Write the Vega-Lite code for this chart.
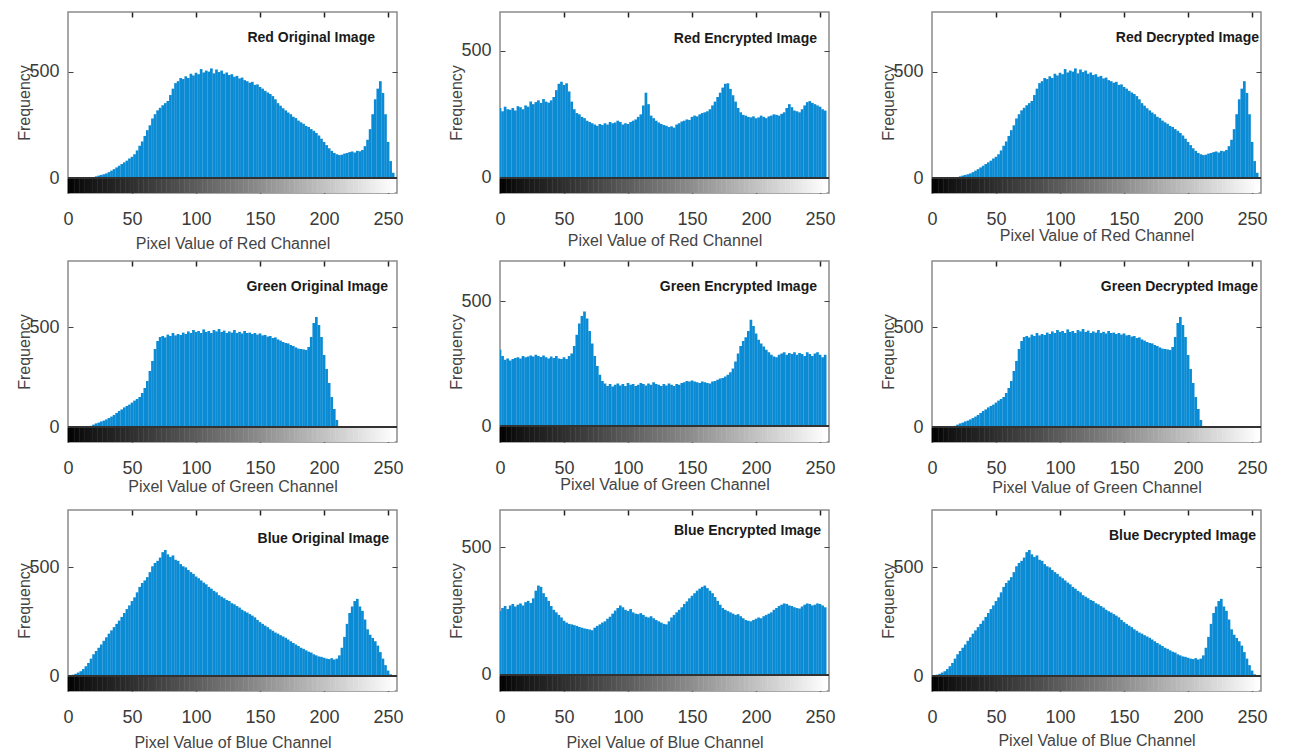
{
"$schema":"https://vega.github.io/schema/vega-lite/v6.json",
"background":"white",
"padding":{"left":16,"top":10,"right":5,"bottom":5},
"datasets":{"h":[
{"x":0,"ro":0,"re":275,"go":0,"ge":305,"bo":0,"be":250},
{"x":2,"ro":0,"re":262,"go":0,"ge":280,"bo":2,"be":262},
{"x":4,"ro":0,"re":280,"go":0,"ge":265,"bo":6,"be":270},
{"x":6,"ro":0,"re":270,"go":0,"ge":270,"bo":10,"be":258},
{"x":8,"ro":0,"re":268,"go":0,"ge":262,"bo":16,"be":272},
{"x":10,"ro":0,"re":275,"go":0,"ge":268,"bo":22,"be":278},
{"x":12,"ro":0,"re":265,"go":0,"ge":272,"bo":32,"be":268},
{"x":14,"ro":0,"re":282,"go":0,"ge":275,"bo":45,"be":275},
{"x":16,"ro":0,"re":278,"go":2,"ge":270,"bo":60,"be":280},
{"x":18,"ro":2,"re":270,"go":6,"ge":280,"bo":80,"be":272},
{"x":20,"ro":5,"re":285,"go":12,"ge":275,"bo":100,"be":285},
{"x":22,"ro":8,"re":280,"go":18,"ge":278,"bo":115,"be":290},
{"x":24,"ro":12,"re":300,"go":22,"ge":282,"bo":130,"be":282},
{"x":26,"ro":15,"re":290,"go":28,"ge":278,"bo":145,"be":300},
{"x":28,"ro":18,"re":298,"go":32,"ge":285,"bo":162,"be":330},
{"x":30,"ro":22,"re":305,"go":38,"ge":280,"bo":178,"be":350},
{"x":32,"ro":28,"re":295,"go":45,"ge":276,"bo":195,"be":345},
{"x":34,"ro":35,"re":310,"go":52,"ge":282,"bo":210,"be":320},
{"x":36,"ro":42,"re":300,"go":60,"ge":275,"bo":225,"be":305},
{"x":38,"ro":50,"re":296,"go":70,"ge":270,"bo":240,"be":290},
{"x":40,"ro":58,"re":305,"go":80,"ge":278,"bo":255,"be":270},
{"x":42,"ro":66,"re":318,"go":88,"ge":272,"bo":272,"be":255},
{"x":44,"ro":74,"re":345,"go":98,"ge":280,"bo":290,"be":245},
{"x":46,"ro":82,"re":370,"go":105,"ge":270,"bo":308,"be":235},
{"x":48,"ro":92,"re":378,"go":112,"ge":268,"bo":325,"be":225},
{"x":50,"ro":100,"re":365,"go":122,"ge":275,"bo":345,"be":212},
{"x":52,"ro":112,"re":372,"go":132,"ge":268,"bo":362,"be":205},
{"x":54,"ro":130,"re":340,"go":140,"ge":280,"bo":385,"be":200},
{"x":56,"ro":152,"re":300,"go":150,"ge":290,"bo":410,"be":198},
{"x":58,"ro":172,"re":270,"go":170,"ge":320,"bo":428,"be":195},
{"x":60,"ro":198,"re":255,"go":195,"ge":365,"bo":440,"be":192},
{"x":62,"ro":225,"re":250,"go":230,"ge":410,"bo":455,"be":188},
{"x":64,"ro":248,"re":240,"go":280,"ge":440,"bo":478,"be":185},
{"x":66,"ro":280,"re":235,"go":330,"ge":458,"bo":505,"be":182},
{"x":68,"ro":300,"re":225,"go":390,"ge":430,"bo":520,"be":180},
{"x":70,"ro":318,"re":220,"go":430,"ge":380,"bo":530,"be":178},
{"x":72,"ro":330,"re":215,"go":450,"ge":330,"bo":545,"be":175},
{"x":74,"ro":342,"re":210,"go":455,"ge":280,"bo":570,"be":185},
{"x":76,"ro":352,"re":205,"go":448,"ge":240,"bo":580,"be":192},
{"x":78,"ro":362,"re":212,"go":462,"ge":205,"bo":560,"be":198},
{"x":80,"ro":390,"re":208,"go":455,"ge":180,"bo":548,"be":205},
{"x":82,"ro":420,"re":215,"go":470,"ge":170,"bo":555,"be":210},
{"x":84,"ro":446,"re":210,"go":458,"ge":160,"bo":535,"be":220},
{"x":86,"ro":455,"re":220,"go":465,"ge":168,"bo":530,"be":228},
{"x":88,"ro":470,"re":215,"go":460,"ge":158,"bo":515,"be":240},
{"x":90,"ro":465,"re":218,"go":472,"ge":165,"bo":505,"be":252},
{"x":92,"ro":478,"re":225,"go":465,"ge":170,"bo":500,"be":262},
{"x":94,"ro":470,"re":220,"go":478,"ge":162,"bo":488,"be":272},
{"x":96,"ro":490,"re":210,"go":470,"ge":168,"bo":478,"be":265},
{"x":98,"ro":482,"re":215,"go":485,"ge":160,"bo":470,"be":255},
{"x":100,"ro":495,"re":212,"go":475,"ge":172,"bo":458,"be":250},
{"x":102,"ro":488,"re":220,"go":480,"ge":165,"bo":450,"be":258},
{"x":104,"ro":512,"re":225,"go":470,"ge":168,"bo":440,"be":245},
{"x":106,"ro":496,"re":230,"go":488,"ge":160,"bo":430,"be":240},
{"x":108,"ro":505,"re":240,"go":475,"ge":165,"bo":422,"be":238},
{"x":110,"ro":500,"re":250,"go":480,"ge":172,"bo":410,"be":242},
{"x":112,"ro":515,"re":285,"go":470,"ge":168,"bo":402,"be":235},
{"x":114,"ro":492,"re":335,"go":485,"ge":162,"bo":392,"be":228},
{"x":116,"ro":510,"re":290,"go":478,"ge":170,"bo":385,"be":225},
{"x":118,"ro":498,"re":245,"go":490,"ge":165,"bo":372,"be":230},
{"x":120,"ro":505,"re":235,"go":475,"ge":175,"bo":365,"be":222},
{"x":122,"ro":490,"re":225,"go":482,"ge":168,"bo":358,"be":215},
{"x":124,"ro":496,"re":218,"go":470,"ge":165,"bo":350,"be":210},
{"x":126,"ro":484,"re":212,"go":478,"ge":160,"bo":345,"be":205},
{"x":128,"ro":488,"re":208,"go":472,"ge":168,"bo":335,"be":200},
{"x":130,"ro":476,"re":205,"go":485,"ge":162,"bo":330,"be":198},
{"x":132,"ro":480,"re":200,"go":470,"ge":170,"bo":322,"be":210},
{"x":134,"ro":468,"re":203,"go":476,"ge":165,"bo":315,"be":225},
{"x":136,"ro":472,"re":198,"go":468,"ge":160,"bo":305,"be":235},
{"x":138,"ro":460,"re":210,"go":480,"ge":168,"bo":298,"be":245},
{"x":140,"ro":455,"re":215,"go":470,"ge":165,"bo":292,"be":255},
{"x":142,"ro":448,"re":222,"go":472,"ge":172,"bo":285,"be":265},
{"x":144,"ro":452,"re":225,"go":465,"ge":175,"bo":278,"be":278},
{"x":146,"ro":438,"re":230,"go":470,"ge":180,"bo":270,"be":288},
{"x":148,"ro":440,"re":228,"go":462,"ge":178,"bo":258,"be":300},
{"x":150,"ro":428,"re":240,"go":468,"ge":182,"bo":248,"be":310},
{"x":152,"ro":420,"re":245,"go":458,"ge":178,"bo":240,"be":320},
{"x":154,"ro":410,"re":242,"go":460,"ge":175,"bo":232,"be":330},
{"x":156,"ro":402,"re":250,"go":452,"ge":172,"bo":225,"be":338},
{"x":158,"ro":395,"re":255,"go":455,"ge":178,"bo":215,"be":345},
{"x":160,"ro":385,"re":258,"go":445,"ge":175,"bo":208,"be":350},
{"x":162,"ro":370,"re":262,"go":448,"ge":172,"bo":200,"be":340},
{"x":164,"ro":352,"re":270,"go":438,"ge":170,"bo":195,"be":330},
{"x":166,"ro":340,"re":285,"go":432,"ge":178,"bo":188,"be":320},
{"x":168,"ro":328,"re":300,"go":425,"ge":180,"bo":182,"be":305},
{"x":170,"ro":318,"re":318,"go":420,"ge":185,"bo":176,"be":290},
{"x":172,"ro":308,"re":335,"go":418,"ge":190,"bo":168,"be":275},
{"x":174,"ro":300,"re":355,"go":410,"ge":192,"bo":160,"be":262},
{"x":176,"ro":288,"re":370,"go":405,"ge":198,"bo":152,"be":255},
{"x":178,"ro":282,"re":372,"go":398,"ge":205,"bo":145,"be":250},
{"x":180,"ro":270,"re":350,"go":392,"ge":215,"bo":138,"be":245},
{"x":182,"ro":262,"re":325,"go":390,"ge":230,"bo":130,"be":240},
{"x":184,"ro":255,"re":300,"go":388,"ge":258,"bo":125,"be":235},
{"x":186,"ro":245,"re":275,"go":385,"ge":290,"bo":118,"be":238},
{"x":188,"ro":240,"re":258,"go":400,"ge":320,"bo":112,"be":230},
{"x":190,"ro":230,"re":248,"go":450,"ge":340,"bo":108,"be":222},
{"x":192,"ro":222,"re":245,"go":520,"ge":355,"bo":100,"be":215},
{"x":194,"ro":212,"re":240,"go":550,"ge":380,"bo":95,"be":212},
{"x":196,"ro":200,"re":238,"go":510,"ge":425,"bo":90,"be":210},
{"x":198,"ro":185,"re":242,"go":450,"ge":400,"bo":88,"be":215},
{"x":200,"ro":170,"re":235,"go":360,"ge":370,"bo":84,"be":220},
{"x":202,"ro":155,"re":238,"go":290,"ge":345,"bo":80,"be":225},
{"x":204,"ro":140,"re":245,"go":220,"ge":330,"bo":78,"be":222},
{"x":206,"ro":128,"re":240,"go":150,"ge":318,"bo":82,"be":230},
{"x":208,"ro":118,"re":235,"go":90,"ge":305,"bo":76,"be":235},
{"x":210,"ro":112,"re":242,"go":35,"ge":295,"bo":80,"be":240},
{"x":212,"ro":108,"re":245,"go":5,"ge":285,"bo":95,"be":245},
{"x":214,"ro":110,"re":250,"go":0,"ge":278,"bo":130,"be":255},
{"x":216,"ro":115,"re":248,"go":0,"ge":275,"bo":180,"be":262},
{"x":218,"ro":118,"re":245,"go":0,"ge":285,"bo":240,"be":270},
{"x":220,"ro":122,"re":252,"go":0,"ge":290,"bo":290,"be":275},
{"x":222,"ro":125,"re":258,"go":0,"ge":295,"bo":320,"be":280},
{"x":224,"ro":120,"re":275,"go":0,"ge":285,"bo":345,"be":278},
{"x":226,"ro":128,"re":290,"go":0,"ge":292,"bo":355,"be":272},
{"x":228,"ro":126,"re":278,"go":0,"ge":288,"bo":320,"be":270},
{"x":230,"ro":132,"re":265,"go":0,"ge":295,"bo":300,"be":265},
{"x":232,"ro":150,"re":262,"go":0,"ge":285,"bo":260,"be":262},
{"x":234,"ro":180,"re":258,"go":0,"ge":292,"bo":215,"be":260},
{"x":236,"ro":230,"re":270,"go":0,"ge":288,"bo":190,"be":268},
{"x":238,"ro":300,"re":285,"go":0,"ge":280,"bo":175,"be":275},
{"x":240,"ro":370,"re":298,"go":0,"ge":295,"bo":160,"be":280},
{"x":242,"ro":420,"re":302,"go":0,"ge":288,"bo":140,"be":278},
{"x":244,"ro":455,"re":295,"go":0,"ge":280,"bo":110,"be":272},
{"x":246,"ro":400,"re":290,"go":0,"ge":290,"bo":80,"be":275},
{"x":248,"ro":300,"re":285,"go":0,"ge":295,"bo":50,"be":280},
{"x":250,"ro":170,"re":280,"go":0,"ge":285,"bo":25,"be":278},
{"x":252,"ro":80,"re":270,"go":0,"ge":275,"bo":8,"be":272},
{"x":254,"ro":25,"re":265,"go":0,"ge":285,"bo":0,"be":265}
]},
"data":{"name":"h"},
"columns":3,
"spacing":{"row":68,"column":103},
"bounds":"flush",
"concat":[
{"width":329,"height":181,"title":{"text":"Red Original Image","dx":-22,"offset":-34},
 "encoding":{"x":{"field":"x","type":"quantitative","scale":{"domain":[0,257],"nice":false,"zero":false,"padding":0},"axis":{"orient":"bottom","values":[0,50,100,150,200,250],"title":"Pixel Value of Red Channel","titlePadding":7}}},
 "layer":[
  {"mark":{"type":"bar","size":3,"clip":true},"encoding":{"y":{"datum":0,"type":"quantitative","scale":{"domain":[-70,780],"nice":false,"padding":0},"axis":{"orient":"left","values":[0,500],"title":"Frequency"}},"y2":{"datum":-70},"color":{"field":"x","type":"quantitative","scale":{"domain":[0,255],"range":["#000000","#ffffff"]},"legend":null}}},
  {"mark":{"type":"bar","size":2.7,"color":"#0a8bd4","clip":true},"encoding":{"x":{"field":"x","type":"quantitative","axis":null},"y":{"field":"ro","type":"quantitative","axis":null}}},
  {"mark":{"type":"rule","color":"#333333","strokeWidth":1.2},"encoding":{"x":{"datum":0,"axis":{"orient":"top","values":[50,100,150,200,250],"labels":false,"title":null,"tickSize":-5}},"x2":{"datum":257},"y":{"datum":0,"axis":{"orient":"right","values":[500],"labels":false,"title":null,"tickSize":-5}}}}
 ]},
{"width":329,"height":181,"title":{"text":"Red Encrypted Image","dx":-12,"offset":-35},
 "encoding":{"x":{"field":"x","type":"quantitative","scale":{"domain":[0,257],"nice":false,"zero":false,"padding":0},"axis":{"orient":"bottom","values":[0,50,100,150,200,250],"title":"Pixel Value of Red Channel","titlePadding":4}}},
 "layer":[
  {"mark":{"type":"bar","size":3,"clip":true},"encoding":{"y":{"datum":0,"type":"quantitative","scale":{"domain":[-59,652],"nice":false,"padding":0},"axis":{"orient":"left","values":[0,500],"title":"Frequency"}},"y2":{"datum":-59},"color":{"field":"x","type":"quantitative","scale":{"domain":[0,255],"range":["#000000","#ffffff"]},"legend":null}}},
  {"mark":{"type":"bar","size":2.7,"color":"#0a8bd4","clip":true},"encoding":{"x":{"field":"x","type":"quantitative","axis":null},"y":{"field":"re","type":"quantitative","axis":null}}},
  {"mark":{"type":"rule","color":"#333333","strokeWidth":1.2},"encoding":{"x":{"datum":0,"axis":{"orient":"top","values":[50,100,150,200,250],"labels":false,"title":null,"tickSize":-5}},"x2":{"datum":257},"y":{"datum":0,"axis":{"orient":"right","values":[500],"labels":false,"title":null,"tickSize":-5}}}}
 ]},
{"width":329,"height":181,"title":{"text":"Red Decrypted Image","dx":-2,"offset":-34},
 "encoding":{"x":{"field":"x","type":"quantitative","scale":{"domain":[0,257],"nice":false,"zero":false,"padding":0},"axis":{"orient":"bottom","values":[0,50,100,150,200,250],"title":"Pixel Value of Red Channel","titlePadding":-1}}},
 "layer":[
  {"mark":{"type":"bar","size":3,"clip":true},"encoding":{"y":{"datum":0,"type":"quantitative","scale":{"domain":[-70,780],"nice":false,"padding":0},"axis":{"orient":"left","values":[0,500],"title":"Frequency"}},"y2":{"datum":-70},"color":{"field":"x","type":"quantitative","scale":{"domain":[0,255],"range":["#000000","#ffffff"]},"legend":null}}},
  {"mark":{"type":"bar","size":2.7,"color":"#0a8bd4","clip":true},"encoding":{"x":{"field":"x","type":"quantitative","axis":null},"y":{"field":"ro","type":"quantitative","axis":null}}},
  {"mark":{"type":"rule","color":"#333333","strokeWidth":1.2},"encoding":{"x":{"datum":0,"axis":{"orient":"top","values":[50,100,150,200,250],"labels":false,"title":null,"tickSize":-5}},"x2":{"datum":257},"y":{"datum":0,"axis":{"orient":"right","values":[500],"labels":false,"title":null,"tickSize":-5}}}}
 ]},
{"width":329,"height":181,"title":{"text":"Green Original Image","dx":-9,"offset":-34},
 "encoding":{"x":{"field":"x","type":"quantitative","scale":{"domain":[0,257],"nice":false,"zero":false,"padding":0},"axis":{"orient":"bottom","values":[0,50,100,150,200,250],"title":"Pixel Value of Green Channel","titlePadding":1}}},
 "layer":[
  {"mark":{"type":"bar","size":3,"clip":true},"encoding":{"y":{"datum":0,"type":"quantitative","scale":{"domain":[-75,830],"nice":false,"padding":0},"axis":{"orient":"left","values":[0,500],"title":"Frequency"}},"y2":{"datum":-75},"color":{"field":"x","type":"quantitative","scale":{"domain":[0,255],"range":["#000000","#ffffff"]},"legend":null}}},
  {"mark":{"type":"bar","size":2.7,"color":"#0a8bd4","clip":true},"encoding":{"x":{"field":"x","type":"quantitative","axis":null},"y":{"field":"go","type":"quantitative","axis":null}}},
  {"mark":{"type":"rule","color":"#333333","strokeWidth":1.2},"encoding":{"x":{"datum":0,"axis":{"orient":"top","values":[50,100,150,200,250],"labels":false,"title":null,"tickSize":-5}},"x2":{"datum":257},"y":{"datum":0,"axis":{"orient":"right","values":[500],"labels":false,"title":null,"tickSize":-5}}}}
 ]},
{"width":329,"height":181,"title":{"text":"Green Encrypted Image","dx":-12,"offset":-34},
 "encoding":{"x":{"field":"x","type":"quantitative","scale":{"domain":[0,257],"nice":false,"zero":false,"padding":0},"axis":{"orient":"bottom","values":[0,50,100,150,200,250],"title":"Pixel Value of Green Channel","titlePadding":-1}}},
 "layer":[
  {"mark":{"type":"bar","size":3,"clip":true},"encoding":{"y":{"datum":0,"type":"quantitative","scale":{"domain":[-64,660],"nice":false,"padding":0},"axis":{"orient":"left","values":[0,500],"title":"Frequency"}},"y2":{"datum":-64},"color":{"field":"x","type":"quantitative","scale":{"domain":[0,255],"range":["#000000","#ffffff"]},"legend":null}}},
  {"mark":{"type":"bar","size":2.7,"color":"#0a8bd4","clip":true},"encoding":{"x":{"field":"x","type":"quantitative","axis":null},"y":{"field":"ge","type":"quantitative","axis":null}}},
  {"mark":{"type":"rule","color":"#333333","strokeWidth":1.2},"encoding":{"x":{"datum":0,"axis":{"orient":"top","values":[50,100,150,200,250],"labels":false,"title":null,"tickSize":-5}},"x2":{"datum":257},"y":{"datum":0,"axis":{"orient":"right","values":[500],"labels":false,"title":null,"tickSize":-5}}}}
 ]},
{"width":329,"height":181,"title":{"text":"Green Decrypted Image","dx":-3,"offset":-34},
 "encoding":{"x":{"field":"x","type":"quantitative","scale":{"domain":[0,257],"nice":false,"zero":false,"padding":0},"axis":{"orient":"bottom","values":[0,50,100,150,200,250],"title":"Pixel Value of Green Channel","titlePadding":2}}},
 "layer":[
  {"mark":{"type":"bar","size":3,"clip":true},"encoding":{"y":{"datum":0,"type":"quantitative","scale":{"domain":[-75,830],"nice":false,"padding":0},"axis":{"orient":"left","values":[0,500],"title":"Frequency"}},"y2":{"datum":-75},"color":{"field":"x","type":"quantitative","scale":{"domain":[0,255],"range":["#000000","#ffffff"]},"legend":null}}},
  {"mark":{"type":"bar","size":2.7,"color":"#0a8bd4","clip":true},"encoding":{"x":{"field":"x","type":"quantitative","axis":null},"y":{"field":"go","type":"quantitative","axis":null}}},
  {"mark":{"type":"rule","color":"#333333","strokeWidth":1.2},"encoding":{"x":{"datum":0,"axis":{"orient":"top","values":[50,100,150,200,250],"labels":false,"title":null,"tickSize":-5}},"x2":{"datum":257},"y":{"datum":0,"axis":{"orient":"right","values":[500],"labels":false,"title":null,"tickSize":-5}}}}
 ]},
{"width":329,"height":181,"title":{"text":"Blue Original Image","dx":-8,"offset":-37},
 "encoding":{"x":{"field":"x","type":"quantitative","scale":{"domain":[0,257],"nice":false,"zero":false,"padding":0},"axis":{"orient":"bottom","values":[0,50,100,150,200,250],"title":"Pixel Value of Blue Channel","titlePadding":8}}},
 "layer":[
  {"mark":{"type":"bar","size":3,"clip":true},"encoding":{"y":{"datum":0,"type":"quantitative","scale":{"domain":[-69,764],"nice":false,"padding":0},"axis":{"orient":"left","values":[0,500],"title":"Frequency"}},"y2":{"datum":-69},"color":{"field":"x","type":"quantitative","scale":{"domain":[0,255],"range":["#000000","#ffffff"]},"legend":null}}},
  {"mark":{"type":"bar","size":2.7,"color":"#0a8bd4","clip":true},"encoding":{"x":{"field":"x","type":"quantitative","axis":null},"y":{"field":"bo","type":"quantitative","axis":null}}},
  {"mark":{"type":"rule","color":"#333333","strokeWidth":1.2},"encoding":{"x":{"datum":0,"axis":{"orient":"top","values":[50,100,150,200,250],"labels":false,"title":null,"tickSize":-5}},"x2":{"datum":257},"y":{"datum":0,"axis":{"orient":"right","values":[500],"labels":false,"title":null,"tickSize":-5}}}}
 ]},
{"width":329,"height":181,"title":{"text":"Blue Encrypted Image","dx":-8,"offset":-29},
 "encoding":{"x":{"field":"x","type":"quantitative","scale":{"domain":[0,257],"nice":false,"zero":false,"padding":0},"axis":{"orient":"bottom","values":[0,50,100,150,200,250],"title":"Pixel Value of Blue Channel","titlePadding":8}}},
 "layer":[
  {"mark":{"type":"bar","size":3,"clip":true},"encoding":{"y":{"datum":0,"type":"quantitative","scale":{"domain":[-63,646],"nice":false,"padding":0},"axis":{"orient":"left","values":[0,500],"title":"Frequency"}},"y2":{"datum":-63},"color":{"field":"x","type":"quantitative","scale":{"domain":[0,255],"range":["#000000","#ffffff"]},"legend":null}}},
  {"mark":{"type":"bar","size":2.7,"color":"#0a8bd4","clip":true},"encoding":{"x":{"field":"x","type":"quantitative","axis":null},"y":{"field":"be","type":"quantitative","axis":null}}},
  {"mark":{"type":"rule","color":"#333333","strokeWidth":1.2},"encoding":{"x":{"datum":0,"axis":{"orient":"top","values":[50,100,150,200,250],"labels":false,"title":null,"tickSize":-5}},"x2":{"datum":257},"y":{"datum":0,"axis":{"orient":"right","values":[500],"labels":false,"title":null,"tickSize":-5}}}}
 ]},
{"width":329,"height":181,"title":{"text":"Blue Decrypted Image","dx":-5,"offset":-34},
 "encoding":{"x":{"field":"x","type":"quantitative","scale":{"domain":[0,257],"nice":false,"zero":false,"padding":0},"axis":{"orient":"bottom","values":[0,50,100,150,200,250],"title":"Pixel Value of Blue Channel","titlePadding":6}}},
 "layer":[
  {"mark":{"type":"bar","size":3,"clip":true},"encoding":{"y":{"datum":0,"type":"quantitative","scale":{"domain":[-69,764],"nice":false,"padding":0},"axis":{"orient":"left","values":[0,500],"title":"Frequency"}},"y2":{"datum":-69},"color":{"field":"x","type":"quantitative","scale":{"domain":[0,255],"range":["#000000","#ffffff"]},"legend":null}}},
  {"mark":{"type":"bar","size":2.7,"color":"#0a8bd4","clip":true},"encoding":{"x":{"field":"x","type":"quantitative","axis":null},"y":{"field":"bo","type":"quantitative","axis":null}}},
  {"mark":{"type":"rule","color":"#333333","strokeWidth":1.2},"encoding":{"x":{"datum":0,"axis":{"orient":"top","values":[50,100,150,200,250],"labels":false,"title":null,"tickSize":-5}},"x2":{"datum":257},"y":{"datum":0,"axis":{"orient":"right","values":[500],"labels":false,"title":null,"tickSize":-5}}}}
 ]}
],
"config":{
 "view":{"stroke":"#8c8c8c","strokeWidth":1.5},
 "title":{"anchor":"end","frame":"group","baseline":"middle","fontSize":14,"fontWeight":"bold","font":"Liberation Sans, sans-serif","color":"#1a1a1a"},
 "axis":{"zindex":1},
 "axisX":{"tickSize":-15,"tickColor":"#222222","tickWidth":1.5,"domain":false,"grid":false,"labelFontSize":18,"labelColor":"#3a3a3a","labelFont":"Liberation Sans, sans-serif","labelPadding":32,"labelFlush":false,"titleFontSize":16,"titleFontWeight":"normal","titleColor":"#444444","titleFont":"Liberation Sans, sans-serif"},
 "axisY":{"tickSize":-5,"tickColor":"#444444","domain":false,"grid":false,"labelFontSize":18,"labelColor":"#3a3a3a","labelFont":"Liberation Sans, sans-serif","labelPadding":14,"titleFontSize":16,"titleFontWeight":"normal","titleColor":"#444444","titlePadding":-4,"titleFont":"Liberation Sans, sans-serif"}
}
}
